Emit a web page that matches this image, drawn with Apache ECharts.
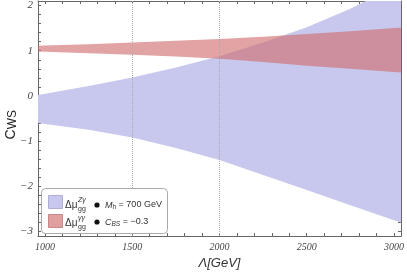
<!DOCTYPE html>
<html><head><meta charset="utf-8">
<script src="https://cdn.jsdelivr.net/npm/echarts@6/dist/echarts.min.js"></script>
<style>html,body{margin:0;padding:0;background:#fff}#c{width:407px;height:275px}</style>
</head><body><div id="c"></div>
<script>
// ---- data ----
const lambdaX = [960, 1000, 1250, 1500, 1750, 2000, 2250, 2500, 2750, 3000, 3040];
const zgUpper = [0.02, 0.05, 0.22, 0.41, 0.63, 0.88, 1.18, 1.52, 1.93, 2.42, 2.50];
const zgLower = [-0.60, -0.62, -0.75, -0.92, -1.15, -1.42, -1.75, -2.08, -2.42, -2.75, -2.80];
const ggUpper = [1.11, 1.115, 1.145, 1.18, 1.22, 1.26, 1.31, 1.37, 1.43, 1.50, 1.51];
const ggLower = [0.98, 0.975, 0.945, 0.91, 0.87, 0.82, 0.75, 0.67, 0.60, 0.53, 0.52];
const xTickLabels = [1000, 1500, 2000, 2500, 3000];
const yTickLabels = [-3, -2, -1, 0, 1, 2];
const gridLinesX = [1500, 2000];

const xMinorTicks = []; for (let v = 1000; v <= 3000; v += 100) xMinorTicks.push(v);
const yMinorTicks = []; for (let i = -15; i <= 10; i++) yMinorTicks.push(Math.round(i * 2) / 10);

const chart = echarts.init(document.getElementById('c'));
const frameColor = '#666';
const labelFont = {fontFamily: 'Liberation Serif', fontStyle: 'italic', color: '#444'};

function band(lo, hi, color, opacity, z) {
  return {
    type: 'custom', clip: true, z: z, silent: true,
    data: [[2000, 0]],
    renderItem: function (params, api) {
      const pts = [];
      for (let i = 0; i < lambdaX.length; i++) pts.push(api.coord([lambdaX[i], hi[i]]));
      for (let i = lambdaX.length - 1; i >= 0; i--) pts.push(api.coord([lambdaX[i], lo[i]]));
      return {type: 'polygon', shape: {points: pts}, style: {fill: color, opacity: opacity}};
    }
  };
}

function xAxisDef(pos, labels) {
  return {
    type: 'value', position: pos, min: 960, max: 3040,
    axisLine: {show: true, onZero: false, lineStyle: {color: frameColor, width: 1}},
    axisTick: {show: true, inside: true, length: 3, customValues: xMinorTicks, lineStyle: {color: frameColor}},
    axisLabel: labels ? Object.assign({show: true, customValues: xTickLabels, fontSize: 10, margin: 6,
      formatter: v => String(v)}, labelFont) : {show: false},
    splitLine: {show: false},
    name: labels ? 'Λ[GeV]' : '', nameLocation: 'middle', nameGap: 21,
    nameTextStyle: {fontFamily: 'Liberation Sans', fontStyle: 'italic', fontSize: 13, color: '#333'}
  };
}
function yAxisDef(pos, labels) {
  return {
    type: 'value', position: pos, min: -3.1, max: 2.1,
    axisLine: {show: true, onZero: false, lineStyle: {color: frameColor, width: 1}},
    axisTick: {show: true, inside: true, length: 3, customValues: yMinorTicks, lineStyle: {color: frameColor}},
    axisLabel: labels ? Object.assign({show: true, customValues: yTickLabels, fontSize: 11, margin: 5,
      formatter: v => (v < 0 ? '\u2212' + Math.abs(v) : String(v))}, labelFont) : {show: false},
    splitLine: {show: false}
  };
}

const tx = (x, y, text, size, italic) => ({type: 'text', x: x, y: y, z: 21, style: {
  text: text, fontFamily: 'Liberation Sans', fontStyle: italic ? 'italic' : 'normal',
  fontSize: size, fill: '#333', verticalAlign: 'middle'}});

chart.setOption({
  animation: false,
  grid: {left: 38, right: 6, top: 1, bottom: 37},
  xAxis: [xAxisDef('bottom', true), xAxisDef('top', false)],
  yAxis: [yAxisDef('left', true), yAxisDef('right', false)],
  series: [
    band(zgLower, zgUpper, '#c8c8ee', 1, 2),
    band(ggLower, ggUpper, 'rgb(208,109,109)', 0.63, 3),
    {
      type: 'line', data: [], z: 4,
      markLine: {
        silent: true, symbol: 'none', label: {show: false},
        lineStyle: {type: 'dotted', color: '#aaa', width: 1},
        data: gridLinesX.map(v => ({xAxis: v}))
      }
    }
  ],
  graphic: [
    {type: 'text', left: 4, top: 110, rotation: Math.PI / 2, z: 10,
      style: {text: '{c|C}{s|WS}', rich: {
        c: {fontFamily: 'Liberation Sans', fontSize: 14, fill: '#222'},
        s: {fontFamily: 'Liberation Sans', fontSize: 12, fill: '#222', padding: [3, 0, 0, 0]}}}},
    {type: 'rect', shape: {x: 41.5, y: 188.5, width: 126, height: 45, r: 4}, z: 20,
      style: {fill: '#fff', stroke: '#aaa', lineWidth: 1}},
    {type: 'rect', shape: {x: 48.5, y: 195.5, width: 14, height: 13}, z: 21,
      style: {fill: '#c8c8ee', stroke: '#aeaed8', lineWidth: 1}},
    {type: 'rect', shape: {x: 48.5, y: 214.5, width: 14, height: 13}, z: 21,
      style: {fill: '#e0a0a0', stroke: '#c88888', lineWidth: 1}},
    tx(65, 205, 'Δμ', 10, false),
    tx(78, 200, 'Zγ', 7, true),
    tx(78, 209, 'gg', 7, false),
    tx(65, 223, 'Δμ', 10, false),
    tx(78, 218, 'γγ', 7, true),
    tx(78, 227, 'gg', 7, false),
    {type: 'circle', shape: {cx: 97, cy: 205, r: 2.6}, z: 21, style: {fill: '#111'}},
    {type: 'circle', shape: {cx: 97, cy: 222, r: 2.6}, z: 21, style: {fill: '#111'}},
    {type: 'text', x: 105, y: 205, z: 21, style: {
      text: '{i|M}{s|h}{n| = 700 GeV}', verticalAlign: 'middle',
      rich: {i: {fontFamily: 'Liberation Sans', fontStyle: 'italic', fontSize: 9, fill: '#333'},
        s: {fontFamily: 'Liberation Sans', fontSize: 6.5, fill: '#333', padding: [4, 0, 0, 0]},
        n: {fontFamily: 'Liberation Sans', fontSize: 9, fill: '#333'}}}},
    {type: 'text', x: 105, y: 222, z: 21, style: {
      text: '{i|C}{s|BS}{n| = \u22120.3}', verticalAlign: 'middle',
      rich: {i: {fontFamily: 'Liberation Sans', fontStyle: 'italic', fontSize: 9, fill: '#333'},
        s: {fontFamily: 'Liberation Sans', fontStyle: 'italic', fontSize: 6.5, fill: '#333', padding: [4, 0, 0, 0]},
        n: {fontFamily: 'Liberation Sans', fontSize: 9, fill: '#333'}}}}
  ]
});
</script>
</body></html>
